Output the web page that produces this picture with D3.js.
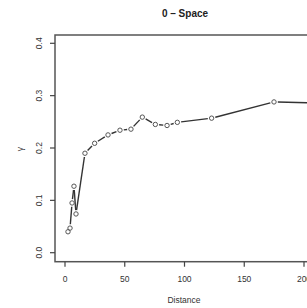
<!DOCTYPE html>
<html>
<head>
<meta charset="utf-8">
<script src="https://cdn.jsdelivr.net/npm/d3@7"></script>
<style>
  html, body { margin: 0; padding: 0; background: #fff; }
  svg { display: block; font-family: "Liberation Sans", Arial, sans-serif; }
</style>
</head>
<body>
<div id="chart"></div>
<script>
// Sample variogram, lag distance vs semivariance (plot is cut at the right edge)

const width = 307;
const height = 308;

const distance = [2.5, 4.2, 5.9, 7.5, 9.2, 16.7, 24.8, 36, 46, 55.2, 64.7, 75.6, 85.4, 94, 122.7, 174.9, 228];
const gamma = [0.040, 0.047, 0.095, 0.127, 0.074, 0.190, 0.209, 0.225, 0.234, 0.236, 0.259, 0.245, 0.243, 0.249, 0.257, 0.288, 0.285];
const xTicks = [0, 50, 100, 150, 200];
const yTicks = [0.0, 0.1, 0.2, 0.3, 0.4];

const x = d3.scaleLinear().domain([0, 200]).range([65, 304]);
const y = d3.scaleLinear().domain([0, 0.4]).range([252.7, 43.3]);

const box = { left: 55, top: 35, right: 420, bottom: 261.7 };
const ink = '#444';

const svg = d3.select('#chart')
  .append('svg')
  .attr('width', width)
  .attr('height', height)
  .attr('viewBox', `0 0 ${width} ${height}`);

svg.append('rect')
  .attr('width', width).attr('height', height)
  .attr('fill', '#fff');

// title
svg.append('text')
  .attr('x', 185).attr('y', 17)
  .attr('text-anchor', 'middle')
  .style('font-size', '10px')
  .style('font-weight', 'bold')
  .attr('fill', '#222')
  .text('0 \u2013 Space');

// plot frame
svg.append('rect')
  .attr('x', box.left).attr('y', box.top)
  .attr('width', box.right - box.left)
  .attr('height', box.bottom - box.top)
  .attr('fill', 'none')
  .attr('stroke', '#555')
  .attr('stroke-width', 1.5);

// x axis (R style: ticks outside the frame)
const xAxis = svg.append('g');
xAxis.selectAll('line')
  .data(xTicks).enter().append('line')
  .attr('x1', d => x(d)).attr('x2', d => x(d))
  .attr('y1', box.bottom).attr('y2', box.bottom + 5)
  .attr('stroke', ink).attr('stroke-width', 1.2);
xAxis.selectAll('text')
  .data(xTicks).enter().append('text')
  .attr('x', d => x(d)).attr('y', 282)
  .attr('text-anchor', 'middle')
  .style('font-size', '8.5px')
  .attr('fill', '#333')
  .text(d => d);

svg.append('text')
  .attr('x', 184).attr('y', 303)
  .attr('text-anchor', 'middle')
  .style('font-size', '8.5px')
  .attr('fill', '#333')
  .text('Distance');

// y axis
const yAxis = svg.append('g');
yAxis.selectAll('line')
  .data(yTicks).enter().append('line')
  .attr('x1', box.left - 5).attr('x2', box.left)
  .attr('y1', d => y(d)).attr('y2', d => y(d))
  .attr('stroke', ink).attr('stroke-width', 1.2);
yAxis.selectAll('text')
  .data(yTicks).enter().append('text')
  .attr('transform', d => `translate(42, ${y(d)}) rotate(-90)`)
  .attr('text-anchor', 'middle')
  .style('font-size', '8.5px')
  .attr('fill', '#333')
  .text(d => d.toFixed(1));

svg.append('text')
  .attr('transform', `translate(23, 149) rotate(-90)`)
  .attr('text-anchor', 'middle')
  .style('font-size', '8.5px')
  .attr('fill', '#333')
  .text('\u03b3');

// clip to visible area inside frame
svg.append('clipPath').attr('id', 'plotclip')
  .append('rect')
  .attr('x', box.left).attr('y', box.top)
  .attr('width', box.right - box.left)
  .attr('height', box.bottom - box.top);

const plot = svg.append('g').attr('clip-path', 'url(#plotclip)');

const pts = distance.map((d, i) => ({ px: x(d), py: y(gamma[i]) }));

// type = "b": line segments with a gap around each point
const gap = 3.8;
const segs = [];
for (let i = 1; i < pts.length; i++) {
  const a = pts[i - 1], b = pts[i];
  const dx = b.px - a.px, dy = b.py - a.py;
  const len = Math.hypot(dx, dy);
  if (len <= 2 * gap) continue;
  const ux = dx / len, uy = dy / len;
  segs.push({ x1: a.px + ux * gap, y1: a.py + uy * gap, x2: b.px - ux * gap, y2: b.py - uy * gap });
}

plot.selectAll('line.seg')
  .data(segs).enter().append('line')
  .attr('class', 'seg')
  .attr('x1', d => d.x1).attr('y1', d => d.y1)
  .attr('x2', d => d.x2).attr('y2', d => d.y2)
  .attr('stroke', '#333')
  .attr('stroke-width', 1.4);

plot.selectAll('circle')
  .data(pts).enter().append('circle')
  .attr('cx', d => d.px).attr('cy', d => d.py)
  .attr('r', 2.2)
  .attr('fill', 'none')
  .attr('stroke', '#555')
  .attr('stroke-width', 1);
</script>
</body>
</html>
